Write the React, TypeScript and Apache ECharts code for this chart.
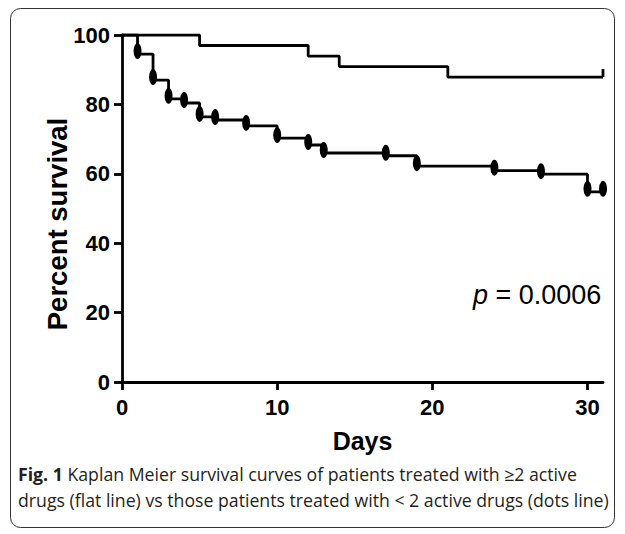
import React, { useEffect, useRef } from "react";
import * as echarts from "echarts";

const xTicks = [0, 10, 20, 30];
const yTicks = [0, 20, 40, 60, 80, 100];
// >= 2 active drugs (flat line)
const topDays = [0, 5, 12, 14, 21, 31];
const topSurvival = [100, 96.97, 93.94, 90.91, 87.88, 87.88];
const topCensorDays = [31];
// < 2 active drugs (dots line)
const bottomDays = [0, 1, 2, 3, 4, 5, 6, 8, 10, 12, 13, 17, 19, 24, 27, 30, 31];
const bottomSurvival = [100, 94.5, 87.0, 81.6, 80.4, 76.4, 75.5, 73.8, 70.3, 68.3, 66.0, 65.2, 62.2, 60.9, 59.9, 54.8, 54.8];
const bottomMarkDays = [1, 2, 3, 4, 5, 6, 8, 10, 12, 13, 17, 19, 24, 27, 30, 31];

const captionLine1 = "Kaplan Meier survival curves of patients treated with ≥2 active";
const captionLine2 = "drugs (flat line) vs those patients treated with < 2 active drugs (dots line)";

const AX = "Liberation Sans, Arial, Helvetica, sans-serif";
const CAP = "'Open Sans', 'Noto Sans', sans-serif";
const CAP_SIZE = 17.7;

export default function App() {
  const ref = useRef<HTMLDivElement>(null);
  useEffect(() => {
    if (!ref.current) return;
    const chart = echarts.init(ref.current, null, { renderer: "svg" });
    const topData = topDays.map((d, i) => [d, topSurvival[i]]);
    const bottomData = bottomDays.map((d, i) => [d, bottomSurvival[i]]);
    const markData = bottomMarkDays.map((d) => [d, bottomSurvival[bottomDays.indexOf(d)]]);
    const topCensor = topCensorDays.map((d) => [d, topSurvival[topDays.indexOf(d)]]);
    const capFont = `${CAP_SIZE}px ${CAP}`;

    chart.setOption({
      animation: false,
      backgroundColor: "#fff",
      grid: { left: 122, right: 22, top: 35, bottom: 152, containLabel: false },
      xAxis: {
        type: "value",
        min: 0,
        max: 31,
        interval: 10,
        name: "Days",
        nameLocation: "middle",
        nameGap: 46,
        nameTextStyle: { fontFamily: AX, fontWeight: "bold", fontSize: 25, color: "#000" },
        axisLine: { show: true, onZero: false, lineStyle: { color: "#000", width: 2.8 } },
        axisTick: { show: true, length: 8, lineStyle: { color: "#000", width: 2.8 }, customValues: xTicks },
        axisLabel: { fontFamily: AX, fontWeight: "bold", fontSize: 22, color: "#000", margin: 14, customValues: xTicks },
        splitLine: { show: false },
      },
      yAxis: {
        type: "value",
        min: 0,
        max: 100,
        interval: 20,
        axisLine: { show: true, lineStyle: { color: "#000", width: 2.8 } },
        axisTick: { show: true, length: 8, lineStyle: { color: "#000", width: 2.8 }, customValues: yTicks },
        axisLabel: { fontFamily: AX, fontWeight: "bold", fontSize: 22, color: "#000", margin: 12, customValues: yTicks },
        splitLine: { show: false },
      },
      series: [
        {
          type: "line",
          step: "end",
          data: topData,
          showSymbol: false,
          lineStyle: { color: "#000", width: 2.8 },
          z: 3,
        },
        {
          type: "scatter",
          data: topCensor,
          symbol: "rect",
          symbolSize: [2.8, 8],
          symbolOffset: [0, -4],
          itemStyle: { color: "#000", opacity: 1 },
          z: 3,
        },
        {
          type: "line",
          step: "end",
          data: bottomData,
          showSymbol: false,
          lineStyle: { color: "#000", width: 2.8 },
          z: 3,
        },
        {
          type: "scatter",
          data: markData,
          symbol: "circle",
          symbolSize: [8, 16],
          symbolOffset: [0, -3],
          itemStyle: { color: "#000", opacity: 1 },
          z: 4,
        },
      ],
      graphic: [
        {
          type: "rect",
          shape: { x: 10.5, y: 8.5, width: 604, height: 519, r: 10 },
          style: { fill: "none", stroke: "#333", lineWidth: 1 },
          silent: true,
        },
        {
          type: "text",
          x: 57,
          y: 224,
          rotation: Math.PI / 2,
          style: {
            text: "Percent survival",
            fill: "#000",
            font: `bold 27.5px ${AX}`,
            align: "center",
            verticalAlign: "middle",
          },
        },
        {
          type: "text",
          x: 473,
          y: 281,
          style: {
            text: "{i|p} = 0.0006",
            fill: "#000",
            font: `27px ${AX}`,
            rich: { i: { fontStyle: "italic", fontSize: 27, fontFamily: AX } },
          },
        },
        {
          type: "text",
          x: 18,
          y: 465,
          style: {
            text: "{b|Fig. 1} " + captionLine1,
            fill: "#231f20",
            font: capFont,
            rich: { b: { fontWeight: "bold", fontSize: CAP_SIZE, fontFamily: CAP, fill: "#231f20" } },
          },
        },
        {
          type: "text",
          x: 18,
          y: 491,
          style: { text: captionLine2, fill: "#231f20", font: capFont },
        },
      ],
    });
    return () => chart.dispose();
  }, []);
  return <div ref={ref} style={{ position: "fixed", left: 0, top: 0, width: 625, height: 534 }} />;
}
